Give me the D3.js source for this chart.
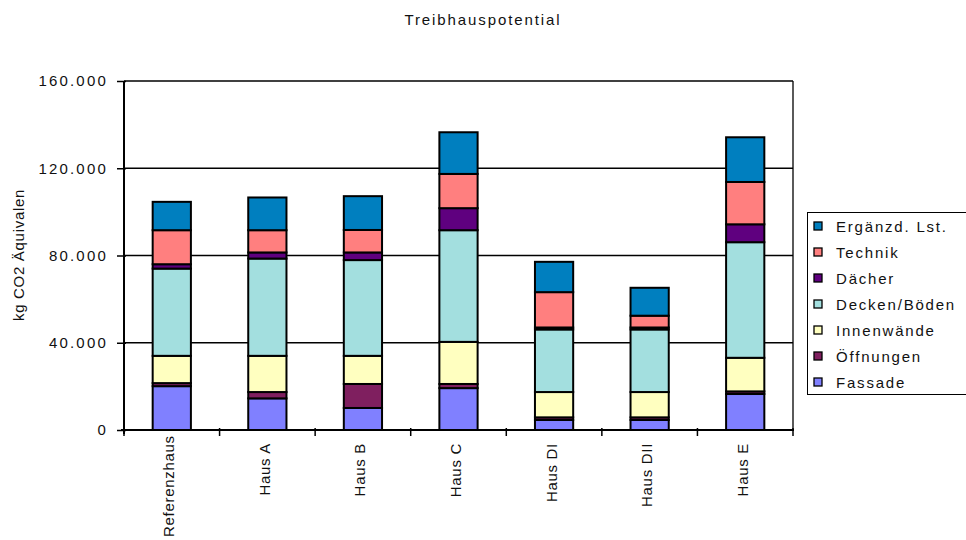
<!DOCTYPE html>
<html>
<head>
<meta charset="utf-8">
<script src="https://cdn.jsdelivr.net/npm/d3@7"></script>
<style>
  html, body { margin: 0; padding: 0; background: #fff; }
  svg { display: block; font-family: "Liberation Sans", Arial, sans-serif; }
</style>
</head>
<body>
<svg id="chart" width="966" height="540"></svg>
<script>
// Houses compared
const categories = ["Referenzhaus", "Haus A", "Haus B", "Haus C", "Haus DI", "Haus DII", "Haus E"];

// Stacked components, bottom to top (kg CO2 equivalent)
const seriesNames = ["Fassade", "Öffnungen", "Innenwände", "Decken/Böden", "Dächer", "Technik", "Ergänzd. Lst."];
const fassade     = [20100, 14500, 10100, 19200, 4600, 4600, 16500];
const oeffnungen  = [1400, 2900, 11000, 1900, 1200, 1200, 1200];
const innenwaende = [12500, 16600, 12900, 19300, 11600, 11600, 15400];
const decken      = [40000, 44600, 43900, 51200, 28700, 28700, 53000];
const daecher     = [2000, 2800, 3500, 10100, 900, 900, 8200];
const technik     = [15600, 10200, 10300, 15700, 16200, 5400, 19400];
const ergaenzd    = [13000, 15000, 15500, 19100, 13900, 12800, 20500];
const seriesColors = ["#8080ff", "#7f1f5f", "#ffffc0", "#a3dfdf", "#5f007f", "#ff7f7f", "#007fbf"];

const yTicks = [0, 40000, 80000, 120000, 160000];
const title = "Treibhauspotential";
const yTitle = "kg CO2 Äquivalen";

const seriesValues = [fassade, oeffnungen, innenwaende, decken, daecher, technik, ergaenzd];
const rows = categories.map((c, i) => {
  const r = { cat: c };
  seriesNames.forEach((s, j) => { r[s] = seriesValues[j][i]; });
  return r;
});

const W = 966, H = 540;
const svg = d3.select("#chart");
const plot = { left: 124, right: 793, top: 81, bottom: 430 };

const x = d3.scaleBand().domain(categories)
  .range([plot.left, plot.right]).paddingInner(0.6).paddingOuter(0.3);
const y = d3.scaleLinear().domain([0, 160000]).range([plot.bottom, plot.top]);
const color = d3.scaleOrdinal().domain(seriesNames).range(seriesColors);
const de = d3.formatLocale({ decimal: ",", thousands: ".", grouping: [3], currency: ["", " €"] });
const fmt = de.format(",.0f");

// Title
svg.append("text")
  .attr("x", 483).attr("y", 25)
  .attr("text-anchor", "middle")
  .attr("font-size", 15).attr("letter-spacing", 1.9)
  .attr("fill", "#111")
  .text(title);

// Horizontal gridlines
svg.append("g").selectAll("line")
  .data(yTicks.filter(d => d > 0))
  .join("line")
  .attr("x1", plot.left).attr("x2", plot.right)
  .attr("y1", d => y(d)).attr("y2", d => y(d))
  .attr("stroke", "#000").attr("stroke-width", 1.3);

// Right edge of the plot area
svg.append("line")
  .attr("x1", plot.right).attr("x2", plot.right)
  .attr("y1", plot.top).attr("y2", plot.bottom)
  .attr("stroke", "#000").attr("stroke-width", 1.3);

// Stacked bars
const stack = d3.stack().keys(seriesNames);
const layers = stack(rows);
svg.append("g").selectAll("g")
  .data(layers)
  .join("g")
  .attr("fill", d => color(d.key))
  .selectAll("rect")
  .data(d => d)
  .join("rect")
  .attr("x", d => x(d.data.cat))
  .attr("width", x.bandwidth())
  .attr("y", d => y(d[1]))
  .attr("height", d => y(d[0]) - y(d[1]))
  .attr("stroke", "#000").attr("stroke-width", 2);

// Y axis
const yAxis = d3.axisLeft(y).tickValues(yTicks).tickFormat(d => d === 0 ? "0" : fmt(d))
  .tickSizeInner(7).tickSizeOuter(0).tickPadding(9);
const gy = svg.append("g").attr("transform", `translate(${plot.left},0)`).call(yAxis);
gy.select(".domain").attr("stroke", "#000").attr("stroke-width", 2)
  .attr("d", `M0,${plot.top}V${plot.bottom + 4}`);
gy.selectAll(".tick line").attr("stroke", "#000").attr("stroke-width", 1.5).attr("x2", -7).attr("x1", 2);
gy.selectAll(".tick text").attr("font-size", 15).attr("letter-spacing", 2.2)
  .attr("fill", "#111").attr("font-family", "Liberation Sans, Arial, sans-serif");

// X axis with boundary ticks between categories
const gx = svg.append("g");
gx.append("line")
  .attr("x1", plot.left - 3).attr("x2", plot.right + 1)
  .attr("y1", plot.bottom).attr("y2", plot.bottom)
  .attr("stroke", "#000").attr("stroke-width", 2);
const step = x.step();
gx.selectAll("line.b")
  .data(d3.range(categories.length + 1))
  .join("line").attr("class", "b")
  .attr("x1", i => plot.left + i * step).attr("x2", i => plot.left + i * step)
  .attr("y1", plot.bottom - 2).attr("y2", plot.bottom + 6)
  .attr("stroke", "#000").attr("stroke-width", 1.5);

// Rotated category labels; a label too long for the space below the axis is moved up to fit
const xLabels = gx.selectAll("text")
  .data(categories)
  .join("text")
  .attr("text-anchor", "end")
  .attr("font-size", 15).attr("letter-spacing", 0.7)
  .attr("fill", "#111")
  .text(d => d);
xLabels.each(function (d) {
  const len = this.getComputedTextLength();
  const top = Math.min(plot.bottom + 13, H - 3 - len);
  d3.select(this).attr("transform",
    `translate(${x(d) + x.bandwidth() / 2 + 2.5},${top}) rotate(-90)`);
});

// Y axis title
svg.append("text")
  .attr("transform", `translate(24,255) rotate(-90)`)
  .attr("text-anchor", "middle")
  .attr("font-size", 15).attr("letter-spacing", 0.7)
  .attr("fill", "#111")
  .text(yTitle);

// Legend (top entry is the top of the stack)
const legend = svg.append("g");
legend.append("rect")
  .attr("x", 807.5).attr("y", 212.5).attr("width", 170).attr("height", 182)
  .attr("fill", "#fff").attr("stroke", "#000").attr("stroke-width", 1);
const legendItems = seriesNames.slice().reverse();
const li = legend.selectAll("g.item")
  .data(legendItems)
  .join("g").attr("class", "item")
  .attr("transform", (d, i) => `translate(814,${226 + i * 26})`);
li.append("rect")
  .attr("x", 0).attr("y", -4).attr("width", 8).attr("height", 8)
  .attr("fill", d => color(d)).attr("stroke", "#000").attr("stroke-width", 1.3);
li.append("text")
  .attr("x", 22).attr("y", 5.5)
  .attr("font-size", 15).attr("letter-spacing", 1.8)
  .attr("fill", "#111")
  .text(d => d);
</script>
</body>
</html>
